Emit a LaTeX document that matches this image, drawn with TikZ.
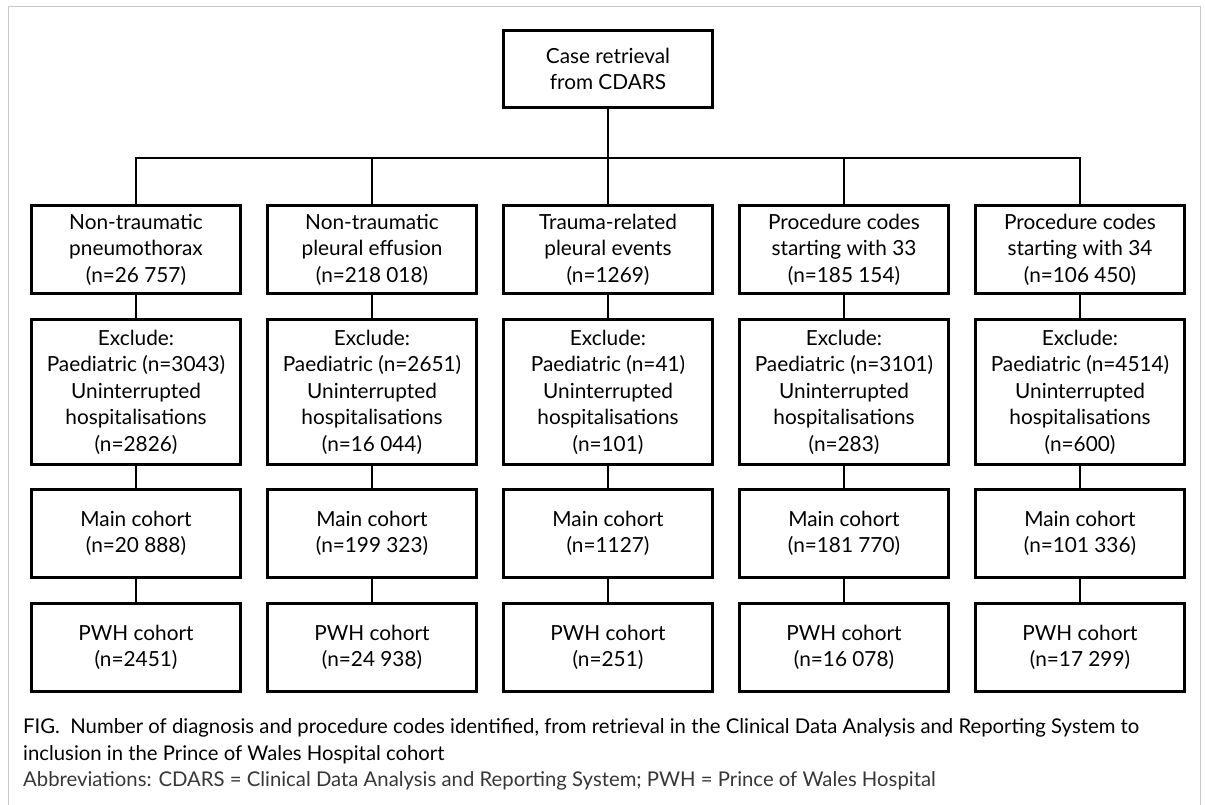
\documentclass[tikz,border=0pt]{standalone}
\usepackage{fontspec}
\setmainfont{Lato}
\definecolor{framegray}{RGB}{200,200,200}
\definecolor{abbrgray}{RGB}{55,55,55}
\begin{document}
\begin{tikzpicture}[x=1pt,y=-1pt,
  box/.style={draw=black,line width=2.8pt,rectangle,minimum width=209pt,inner sep=0pt,align=center,font=\fontsize{20.8}{26.5}\selectfont},
  rowa/.style={box,minimum height=88pt},
  rowb/.style={box,minimum height=145pt},
  link/.style={line width=2.8pt},
  captext/.style={anchor=base west,inner sep=0pt,font=\fontsize{20.3}{26}\selectfont}
]
\useasboundingbox (0,0) rectangle (1205,805);
\draw[framegray,line width=1pt] (8,805) -- (8,7) -- (1200,7) -- (1200,805);

\node[box,minimum height=77pt] (top) at (608,69) {Case retrieval\\from CDARS};
\coordinate (bus) at (608,158);

\node[rowa] (a1) at (136,249.5) {Non-traumatic\\pneumothorax\\(n=26 757)};
\node[rowa] (a2) at (372,249.5) {Non-traumatic\\pleural effusion\\(n=218 018)};
\node[rowa] (a3) at (608,249.5) {Trauma-related\\pleural events\\(n=1269)};
\node[rowa] (a4) at (844,249.5) {Procedure codes\\starting with 33\\(n=185 154)};
\node[rowa] (a5) at (1080,249.5) {Procedure codes\\starting with 34\\(n=106 450)};

\node[rowb] (b1) at (136,392) {Exclude:\\Paediatric (n=3043)\\Uninterrupted\\hospitalisations\\(n=2826)};
\node[rowb] (b2) at (372,392) {Exclude:\\Paediatric (n=2651)\\Uninterrupted\\hospitalisations\\(n=16 044)};
\node[rowb] (b3) at (608,392) {Exclude:\\Paediatric (n=41)\\Uninterrupted\\hospitalisations\\(n=101)};
\node[rowb] (b4) at (844,392) {Exclude:\\Paediatric (n=3101)\\Uninterrupted\\hospitalisations\\(n=283)};
\node[rowb] (b5) at (1080,392) {Exclude:\\Paediatric (n=4514)\\Uninterrupted\\hospitalisations\\(n=600)};

\node[rowa] (c1) at (136,533.5) {Main cohort\\(n=20 888)};
\node[rowa] (c2) at (372,533.5) {Main cohort\\(n=199 323)};
\node[rowa] (c3) at (608,533.5) {Main cohort\\(n=1127)};
\node[rowa] (c4) at (844,533.5) {Main cohort\\(n=181 770)};
\node[rowa] (c5) at (1080,533.5) {Main cohort\\(n=101 336)};

\node[rowa] (d1) at (136,647.5) {PWH cohort\\(n=2451)};
\node[rowa] (d2) at (372,647.5) {PWH cohort\\(n=24 938)};
\node[rowa] (d3) at (608,647.5) {PWH cohort\\(n=251)};
\node[rowa] (d4) at (844,647.5) {PWH cohort\\(n=16 078)};
\node[rowa] (d5) at (1080,647.5) {PWH cohort\\(n=17 299)};

\draw[link] (top.south) -- (a3.north);
\draw[link] (a1.north) |- (bus) -| (a5.north);
\draw[link] (a2.north) -- (a2.north |- bus);
\draw[link] (a4.north) -- (a4.north |- bus);
\foreach \i in {1,...,5}{
  \draw[link] (a\i.south) -- (b\i.north);
  \draw[link] (b\i.south) -- (c\i.north);
  \draw[link] (c\i.south) -- (d\i.north);
}

\node[captext] (cap1) at (23,733) {FIG.\ \ Number of diagnosis and procedure codes identified, from retrieval in the Clinical Data Analysis and Reporting System to};
\node[captext] (cap2) at (23,760) {inclusion in the Prince of Wales Hospital cohort};
\node[captext,text=abbrgray] (abbr) at (23,786) {Abbreviations: CDARS = Clinical Data Analysis and Reporting System; PWH = Prince of Wales Hospital};
\end{tikzpicture}
\end{document}
